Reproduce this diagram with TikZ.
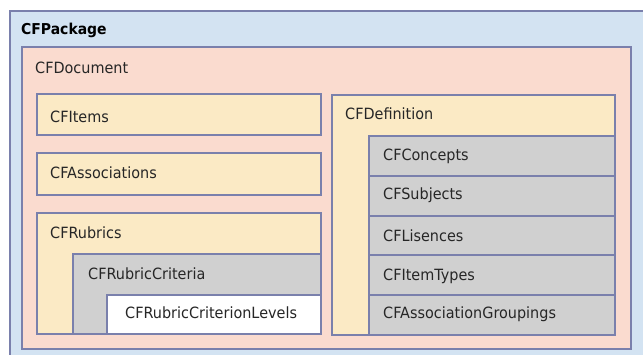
\documentclass[tikz,border=0pt]{standalone}
\usepackage{fontspec}
\setmainfont{DejaVu Sans}[FakeStretch=0.93]
\usepackage{tikz}

\definecolor{bordo}{RGB}{122,128,172}
\definecolor{azzurro}{RGB}{211,227,242}
\definecolor{rosa}{RGB}{250,219,207}
\definecolor{giallo}{RGB}{251,234,197}
\definecolor{grigio}{RGB}{208,208,208}

\tikzset{
  scatola/.style={draw=bordo, line width=1.3pt},
  nome/.style={anchor=base west, inner sep=0pt, text=black!85, font=\fontsize{15.5}{18}\selectfont}
}

\begin{document}
\begin{tikzpicture}[x=1pt, y=-1pt]
			\useasboundingbox (0, 0) rectangle (643, 354);
			\clip (0, 0) rectangle (643, 354);
			\fill[white] (0, 0) rectangle (643, 354);
			% package
			\draw[scatola, fill=azzurro] (10, 11) rectangle (660, 370);
			\node[nome, text=black, font=\fontsize{15}{18}\selectfont\bfseries] (pkg) at (21, 34) {CFPackage};
			% document
			\draw[scatola, fill=rosa] (22, 47) rectangle (631, 349);
			\node[nome] (doc) at (35, 73) {CFDocument};
			% colonna sinistra
			\draw[scatola, fill=giallo] (37, 94) rectangle (321, 135);
			\node[nome] (items) at (50, 122) {CFItems};
			\draw[scatola, fill=giallo] (37, 153) rectangle (321, 195);
			\node[nome] (assoc) at (50, 178) {CFAssociations};
			% rubrics
			\draw[scatola, fill=giallo] (37, 213) rectangle (321, 334);
			\node[nome] (rubrics) at (50, 238) {CFRubrics};
			\draw[scatola, fill=grigio] (73, 254) rectangle (321, 334);
			\node[nome] (criteria) at (88, 279) {CFRubricCriteria};
			\draw[scatola, fill=white] (107, 295) rectangle (321, 334);
			\node[nome] (levels) at (125, 318) {CFRubricCriterionLevels};
			% definition
			\draw[scatola, fill=giallo] (332, 95) rectangle (615, 335);
			\node[nome] (def) at (345, 119) {CFDefinition};
			\draw[scatola, fill=grigio] (369, 136) rectangle (615, 176);
			\node[nome] (concepts) at (383, 160) {CFConcepts};
			\draw[scatola, fill=grigio] (369, 176) rectangle (615, 216);
			\node[nome] (subjects) at (383, 199) {CFSubjects};
			\draw[scatola, fill=grigio] (369, 216) rectangle (615, 255);
			\node[nome] (licenses) at (383, 241) {CFLisences};
			\draw[scatola, fill=grigio] (369, 255) rectangle (615, 295);
			\node[nome] (types) at (383, 280) {CFItemTypes};
			\draw[scatola, fill=grigio] (369, 295) rectangle (615, 335);
			\node[nome] (groupings) at (383, 318) {CFAssociationGroupings};
		\end{tikzpicture}
\end{document}
